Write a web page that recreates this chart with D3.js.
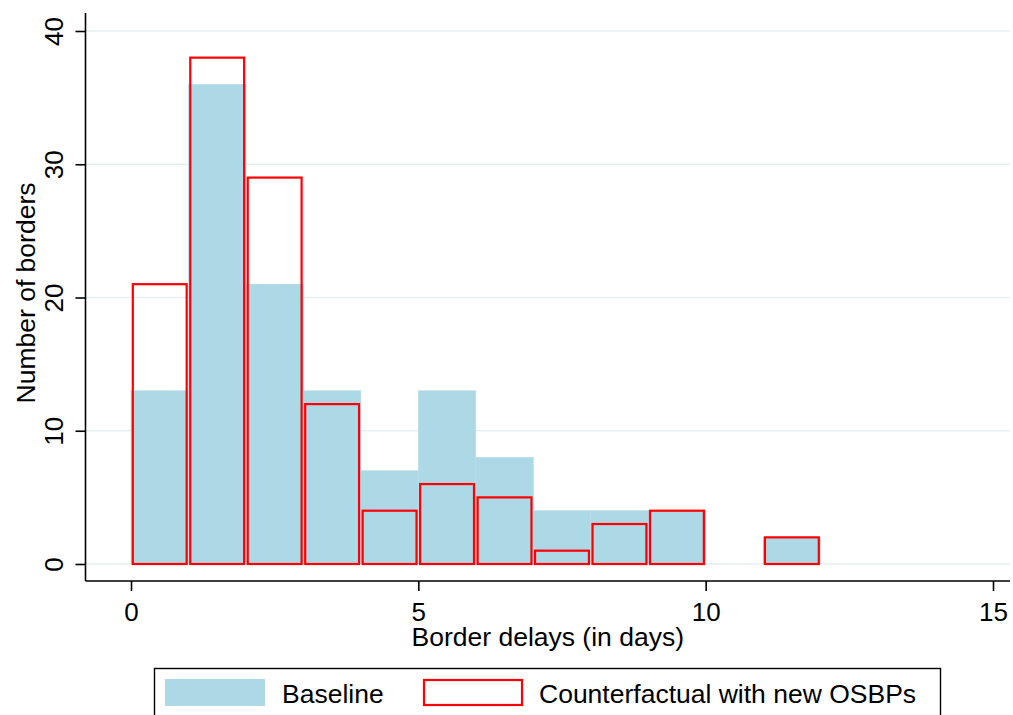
<!DOCTYPE html>
<html>
<head>
<meta charset="utf-8">
<script src="https://cdn.jsdelivr.net/npm/d3@7"></script>
<style>
  body { margin: 0; background: #fff; }
  text { font-family: "Liberation Sans", Arial, sans-serif; fill: #000; }
</style>
</head>
<body>
<div id="chart"></div>
<script>
// histogram bins (days), width 1
var binStarts = [0, 1, 2, 3, 4, 5, 6, 7, 8, 9, 10, 11];
var baseline = [13, 36, 21, 13, 7, 13, 8, 4, 4, 4, 0, 2];
var counterfactual = [21, 38, 29, 12, 4, 6, 5, 1, 3, 4, 0, 2];
var xTicks = [0, 5, 10, 15];
var yTicks = [0, 10, 20, 30, 40];
var legendLabels = ["Baseline", "Counterfactual with new OSBPs"];

var width = 1013, height = 715;

var svg = d3.select("#chart").append("svg")
    .attr("width", width)
    .attr("height", height);

// set the ranges
var x = d3.scaleLinear().domain([0, 15]).range([131, 993]);
var y = d3.scaleLinear().domain([0, 40]).range([564, 31]);

var plotLeft = 85.5, plotRight = 1010, plotTop = 13, plotBottom = 581;

// grid lines
svg.append("g")
    .selectAll("line")
    .data(yTicks)
    .enter().append("line")
    .attr("x1", plotLeft)
    .attr("x2", plotRight)
    .attr("y1", function (d) { return y(d); })
    .attr("y2", function (d) { return y(d); })
    .style("stroke", "#e6eff1")
    .style("stroke-width", 1.6);

var bins = binStarts.map(function (b, i) {
    return { x0: b, x1: b + 1, base: baseline[i], cf: counterfactual[i] };
});

// baseline bars
svg.append("g")
    .selectAll("rect")
    .data(bins.filter(function (d) { return d.base > 0; }))
    .enter().append("rect")
    .attr("x", function (d) { return x(d.x0); })
    .attr("width", function (d) { return x(d.x1) - x(d.x0); })
    .attr("y", function (d) { return y(d.base); })
    .attr("height", function (d) { return y(0) - y(d.base); })
    .style("fill", "#add8e6")
    .style("stroke", "#b6dce8")
    .style("stroke-width", 0.6);

// counterfactual outline bars
var inset = 1.8;
svg.append("g")
    .selectAll("rect")
    .data(bins.filter(function (d) { return d.cf > 0; }))
    .enter().append("rect")
    .attr("x", function (d) { return x(d.x0) + inset; })
    .attr("width", function (d) { return x(d.x1) - x(d.x0) - 2 * inset; })
    .attr("y", function (d) { return y(d.cf); })
    .attr("height", function (d) { return y(0) - y(d.cf); })
    .style("fill", "none")
    .style("stroke", "#ff0000")
    .style("stroke-width", 2.2);

// axes
var xAxis = svg.append("g")
    .attr("transform", "translate(0," + plotBottom + ")")
    .call(d3.axisBottom(x).tickValues(xTicks).tickSize(10).tickPadding(12).tickFormat(d3.format("d")));
xAxis.select(".domain").remove();
xAxis.append("line")
    .attr("x1", plotLeft).attr("x2", plotRight)
    .style("stroke", "#000").style("stroke-width", 1.6);
xAxis.selectAll(".tick line").style("stroke", "#000").style("stroke-width", 1.6);
xAxis.selectAll(".tick text")
    .style("font-family", "Liberation Sans, Arial, sans-serif")
    .style("font-size", "26px")
    .attr("fill", "#000");

var yAxis = svg.append("g")
    .attr("transform", "translate(" + plotLeft + ",0)")
    .call(d3.axisLeft(y).tickValues(yTicks).tickSize(10).tickFormat(d3.format("d")));
yAxis.select(".domain").remove();
yAxis.append("line")
    .attr("y1", plotTop).attr("y2", plotBottom)
    .style("stroke", "#000").style("stroke-width", 1.6);
yAxis.selectAll(".tick line").style("stroke", "#000").style("stroke-width", 1.6);
yAxis.selectAll(".tick text")
    .attr("x", null).attr("dy", null)
    .attr("transform", "translate(-23,0) rotate(-90)")
    .style("text-anchor", "middle")
    .style("font-family", "Liberation Sans, Arial, sans-serif")
    .style("font-size", "26px")
    .attr("fill", "#000");

// axis titles
svg.append("text")
    .attr("x", (plotLeft + plotRight) / 2)
    .attr("y", 646)
    .style("text-anchor", "middle")
    .style("font-size", "26.5px")
    .text("Border delays (in days)");

svg.append("text")
    .attr("transform", "translate(35,293) rotate(-90)")
    .style("text-anchor", "middle")
    .style("font-size", "26.5px")
    .text("Number of borders");

// legend
var legend = svg.append("g");
legend.append("rect")
    .attr("x", 154.5).attr("y", 668.5)
    .attr("width", 786).attr("height", 60)
    .style("fill", "#fff")
    .style("stroke", "#000")
    .style("stroke-width", 1.4);
legend.append("rect")
    .attr("x", 165).attr("y", 679)
    .attr("width", 100).attr("height", 27)
    .style("fill", "#add8e6");
legend.append("text")
    .attr("x", 282).attr("y", 703)
    .style("font-size", "26.5px")
    .text(legendLabels[0]);
legend.append("rect")
    .attr("x", 424).attr("y", 680)
    .attr("width", 98).attr("height", 25)
    .style("fill", "none")
    .style("stroke", "#ff0000")
    .style("stroke-width", 2.2);
legend.append("text")
    .attr("x", 539).attr("y", 703)
    .style("font-size", "26.5px")
    .text(legendLabels[1]);
</script>
</body>
</html>
